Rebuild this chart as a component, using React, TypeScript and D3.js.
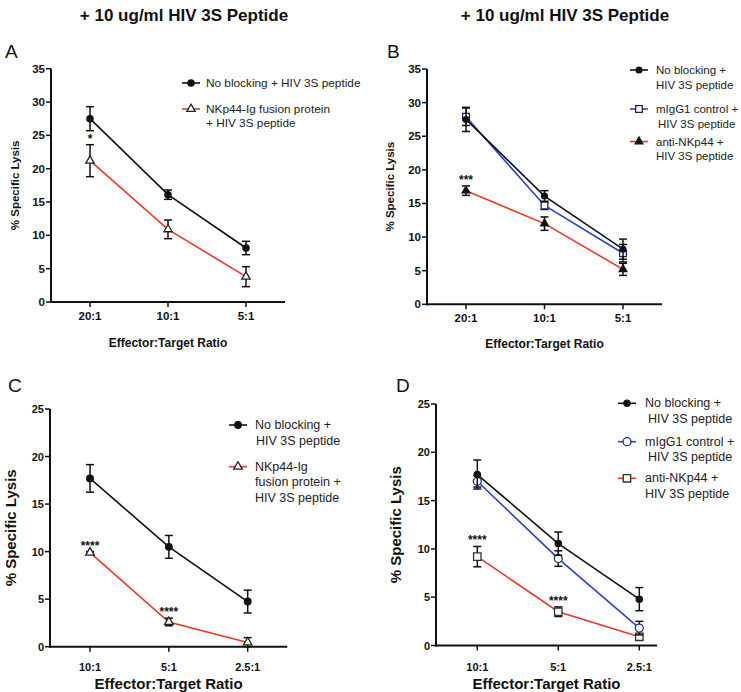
import React from "react";
import * as d3 from "d3";

const catsAB = ["20:1", "10:1", "5:1"];
const catsCD = ["10:1", "5:1", "2.5:1"];
const yTicksAB = [0, 5, 10, 15, 20, 25, 30, 35];
const yTicksCD = [0, 5, 10, 15, 20, 25];

// Panel A
const aNoBlock = [27.5, 16.1, 8.1];
const aNoBlockErr = [1.8, 0.7, 1.0];
const aFusion = [21.2, 10.9, 3.8];
const aFusionErr = [2.4, 1.4, 1.5];
const aSig = ["*", "", ""];

// Panel B
const bNoBlock = [27.5, 16.1, 8.2];
const bNoBlockErr = [1.8, 0.8, 1.5];
const bIgG1 = [27.9, 14.7, 7.6];
const bIgG1Err = [1.3, 0.6, 1.3];
const bAnti = [16.9, 12.0, 5.2];
const bAntiErr = [0.7, 1.0, 0.9];
const bSig = ["***", "", ""];

// Panel C
const cNoBlock = [17.7, 10.5, 4.75];
const cNoBlockErr = [1.45, 1.2, 1.2];
const cFusion = [9.9, 2.6, 0.45];
const cFusionErr = [0.1, 0.4, 0.5];
const cSig = ["****", "****", ""];

// Panel D
const dNoBlock = [17.7, 10.55, 4.8];
const dNoBlockErr = [1.5, 1.2, 1.2];
const dIgG1 = [17.0, 9.0, 1.8];
const dIgG1Err = [0.6, 0.8, 0.7];
const dAnti = [9.2, 3.5, 0.9];
const dAntiErr = [1.05, 0.5, 0.3];
const dSig = ["****", "****", ""];

const FONT = "'Liberation Sans', Arial, Helvetica, sans-serif";
const RED = "#e8372b";
const BLUE = "#2c3fd0";

type Series = {
  labels: string[];
  values: number[];
  errors: number[];
  color: string;
  symbol: d3.SymbolType;
  size: number;
  fill: string;
  stroke: string;
};

type PanelCfg = {
  letter: string;
  letterX: number;
  letterY: number;
  cats: string[];
  yTicks: number[];
  x0: number;
  x1: number;
  catRange: [number, number];
  yTop: number;
  yBottom: number;
  tickFont: number;
  xTickY: number;
  titleFont: number;
  titleY: number;
  yLabelFont: number;
  yLabelX: number;
  series: Series[];
  sig: string[];
  sigSeries: number;
  legendX: number;
  legendYs: number[];
  legendFont: number;
  legendLine: number;
  legendIndent: number[];
  legendGap: number;
};

function Panel({ cfg }: { cfg: PanelCfg }) {
  const yMax = cfg.yTicks[cfg.yTicks.length - 1];
  const y = d3.scaleLinear().domain([0, yMax]).range([cfg.yBottom, cfg.yTop]);
  const x = d3.scalePoint<string>().domain(cfg.cats).range(cfg.catRange).padding(0);
  const line = d3
    .line<number>()
    .x((_, i) => x(cfg.cats[i]) as number)
    .y((v) => y(v));
  const cap = 4;
  const order = [...cfg.series.keys()].reverse();
  const sigS = cfg.series[cfg.sigSeries];
  return (
    <g fontFamily={FONT}>
      <text x={cfg.letterX} y={cfg.letterY} fontSize={19} fill="#111">
        {cfg.letter}
      </text>
      {/* axes */}
      <line x1={cfg.x0} x2={cfg.x0} y1={cfg.yTop} y2={cfg.yBottom + 1} stroke="#111" strokeWidth={2} />
      <line x1={cfg.x0 - 1} x2={cfg.x1} y1={cfg.yBottom} y2={cfg.yBottom} stroke="#111" strokeWidth={2} />
      {cfg.yTicks.map((t) => (
        <g key={"yt" + t}>
          <line x1={cfg.x0 - 5} x2={cfg.x0} y1={y(t)} y2={y(t)} stroke="#111" strokeWidth={1.5} />
          <text
            x={cfg.x0 - 6}
            y={y(t)}
            textAnchor="end"
            dominantBaseline="central"
            fontSize={cfg.tickFont}
            fontWeight="bold"
            fill="#111"
          >
            {t}
          </text>
        </g>
      ))}
      {cfg.cats.map((c) => (
        <g key={"xt" + c}>
          <line
            x1={x(c)}
            x2={x(c)}
            y1={cfg.yBottom}
            y2={cfg.yBottom + 5}
            stroke="#111"
            strokeWidth={1.5}
          />
          <text
            x={x(c)}
            y={cfg.xTickY}
            textAnchor="middle"
            dominantBaseline="central"
            fontSize={cfg.tickFont}
            fontWeight="bold"
            fill="#111"
          >
            {c}
          </text>
        </g>
      ))}
      <text
        x={(cfg.x0 + cfg.x1) / 2}
        y={cfg.titleY}
        textAnchor="middle"
        dominantBaseline="central"
        fontSize={cfg.titleFont}
        fontWeight="bold"
        fill="#111"
      >
        Effector:Target Ratio
      </text>
      <text
        transform={`translate(${cfg.yLabelX},${(cfg.yTop + cfg.yBottom) / 2}) rotate(-90)`}
        textAnchor="middle"
        dominantBaseline="central"
        fontSize={cfg.yLabelFont}
        fontWeight="bold"
        fill="#111"
      >
        % Specific Lysis
      </text>
      {/* series lines */}
      {order.map((si) => {
        const s = cfg.series[si];
        return (
          <path key={"l" + si} d={line(s.values) || ""} fill="none" stroke={s.color} strokeWidth={1.6} />
        );
      })}
      {/* error bars & markers */}
      {order.map((si) => {
        const s = cfg.series[si];
        return (
          <g key={"m" + si}>
            {s.values.map((v, i) => {
              const cx = x(cfg.cats[i]) as number;
              const yt = y(v + s.errors[i]);
              const yb = y(Math.max(0, v - s.errors[i]));
              return (
                <g key={i}>
                  <line x1={cx} x2={cx} y1={yt} y2={yb} stroke="#111" strokeWidth={1.5} />
                  <line x1={cx - cap} x2={cx + cap} y1={yt} y2={yt} stroke="#111" strokeWidth={1.5} />
                  <line x1={cx - cap} x2={cx + cap} y1={yb} y2={yb} stroke="#111" strokeWidth={1.5} />
                  <path
                    transform={`translate(${cx},${y(v)})`}
                    d={d3.symbol().type(s.symbol).size(s.size)() || ""}
                    fill={s.fill}
                    stroke={s.stroke}
                    strokeWidth={1.3}
                  />
                </g>
              );
            })}
          </g>
        );
      })}
      {/* significance */}
      {cfg.sig.map((t, i) =>
        t ? (
          <text
            key={"sig" + i}
            x={x(cfg.cats[i])}
            y={y(sigS.values[i] + sigS.errors[i]) - 2}
            textAnchor="middle"
            fontSize={12}
            fontWeight="bold"
            fill="#111"
          >
            {t}
          </text>
        ) : null
      )}
      {/* legend */}
      {cfg.series.map((s, si) => {
        const ly = cfg.legendYs[si];
        const lx = cfg.legendX;
        return (
          <g key={"lg" + si}>
            <line x1={lx} x2={lx + 18} y1={ly} y2={ly} stroke={s.color} strokeWidth={1.6} />
            <path
              transform={`translate(${lx + 9},${ly})`}
              d={d3.symbol().type(s.symbol).size(s.size)() || ""}
              fill={s.fill}
              stroke={s.stroke}
              strokeWidth={1.3}
            />
            {s.labels.map((t, k) => (
              <text
                key={k}
                x={lx + cfg.legendGap + (k > 0 ? cfg.legendIndent[si] : 0)}
                y={ly + k * cfg.legendLine}
                dominantBaseline="central"
                fontSize={cfg.legendFont}
                fill="#222"
              >
                {t}
              </text>
            ))}
          </g>
        );
      })}
    </g>
  );
}

const panels: PanelCfg[] = [
  {
    letter: "A",
    letterX: 5,
    letterY: 58,
    cats: catsAB,
    yTicks: yTicksAB,
    x0: 51,
    x1: 285,
    catRange: [90, 246],
    yTop: 68.7,
    yBottom: 302,
    tickFont: 11.5,
    xTickY: 316,
    titleFont: 12,
    titleY: 343,
    yLabelFont: 11.5,
    yLabelX: 15,
    series: [
      { labels: ["No blocking + HIV 3S peptide"], values: aNoBlock, errors: aNoBlockErr, color: "#111", symbol: d3.symbolCircle, size: 30, fill: "#111", stroke: "#111" },
      { labels: ["NKp44-Ig fusion protein", "+ HIV 3S peptide"], values: aFusion, errors: aFusionErr, color: RED, symbol: d3.symbolTriangle, size: 30, fill: "#fff", stroke: "#222" },
    ],
    sig: aSig,
    sigSeries: 1,
    legendX: 182,
    legendYs: [83, 109],
    legendFont: 11.8,
    legendLine: 14,
    legendIndent: [0, 0],
    legendGap: 24,
  },
  {
    letter: "B",
    letterX: 387,
    letterY: 58,
    cats: catsAB,
    yTicks: yTicksAB,
    x0: 427,
    x1: 662,
    catRange: [466, 623],
    yTop: 69,
    yBottom: 304.3,
    tickFont: 11.5,
    xTickY: 318,
    titleFont: 12,
    titleY: 344,
    yLabelFont: 11.5,
    yLabelX: 390,
    series: [
      { labels: ["No blocking +", "HIV 3S peptide"], values: bNoBlock, errors: bNoBlockErr, color: "#111", symbol: d3.symbolCircle, size: 26, fill: "#111", stroke: "#111" },
      { labels: ["mIgG1 control +", " HIV 3S peptide"], values: bIgG1, errors: bIgG1Err, color: BLUE, symbol: d3.symbolSquare, size: 45, fill: "#fff", stroke: "#1b2460" },
      { labels: ["anti-NKp44 +", "HIV 3S peptide"], values: bAnti, errors: bAntiErr, color: RED, symbol: d3.symbolTriangle, size: 26, fill: "#111", stroke: "#111" },
    ],
    sig: bSig,
    sigSeries: 2,
    legendX: 630,
    legendYs: [70, 109, 141.5],
    legendFont: 11.5,
    legendLine: 14.5,
    legendIndent: [0, 2, 0],
    legendGap: 26,
  },
  {
    letter: "C",
    letterX: 8,
    letterY: 392,
    cats: catsCD,
    yTicks: yTicksCD,
    x0: 50,
    x1: 287.3,
    catRange: [90, 247.7],
    yTop: 409,
    yBottom: 646.7,
    tickFont: 11,
    xTickY: 666.7,
    titleFont: 15,
    titleY: 683.5,
    yLabelFont: 15,
    yLabelX: 10,
    series: [
      { labels: ["No blocking +", " HIV 3S peptide"], values: cNoBlock, errors: cNoBlockErr, color: "#111", symbol: d3.symbolCircle, size: 34, fill: "#111", stroke: "#111" },
      { labels: ["NKp44-Ig", "fusion protein +", "HIV 3S peptide"], values: cFusion, errors: cFusionErr, color: RED, symbol: d3.symbolTriangle, size: 32, fill: "#fff", stroke: "#222" },
    ],
    sig: cSig,
    sigSeries: 1,
    legendX: 229,
    legendYs: [425, 466.7],
    legendFont: 12.5,
    legendLine: 15.5,
    legendIndent: [1, 0],
    legendGap: 26,
  },
  {
    letter: "D",
    letterX: 396,
    letterY: 392,
    cats: catsCD,
    yTicks: yTicksCD,
    x0: 436,
    x1: 657,
    catRange: [477.3, 639.3],
    yTop: 404,
    yBottom: 645.5,
    tickFont: 11,
    xTickY: 666.7,
    titleFont: 15,
    titleY: 683.5,
    yLabelFont: 15,
    yLabelX: 395,
    series: [
      { labels: ["No blocking +", " HIV 3S peptide"], values: dNoBlock, errors: dNoBlockErr, color: "#111", symbol: d3.symbolCircle, size: 30, fill: "#111", stroke: "#111" },
      { labels: ["mIgG1 control +", " HIV 3S peptide"], values: dIgG1, errors: dIgG1Err, color: BLUE, symbol: d3.symbolCircle, size: 50, fill: "#fff", stroke: "#24307a" },
      { labels: ["anti-NKp44 +", "HIV 3S peptide"], values: dAnti, errors: dAntiErr, color: RED, symbol: d3.symbolSquare, size: 55, fill: "#fff", stroke: "#333" },
    ],
    sig: dSig,
    sigSeries: 2,
    legendX: 618,
    legendYs: [403.3, 441.7, 478.3],
    legendFont: 12.5,
    legendLine: 15.5,
    legendIndent: [3, 3, 0],
    legendGap: 27,
  },
];

export default function App() {
  return (
    <svg
      width={741}
      height={692}
      style={{ position: "absolute", left: 0, top: 0, background: "#fff" }}
      fontFamily={FONT}
    >
      <rect width={741} height={692} fill="#fff" />
      <text x={184} y={15} textAnchor="middle" dominantBaseline="central" fontSize={17} fontWeight="bold" fill="#111">
        + 10 ug/ml HIV 3S Peptide
      </text>
      <text x={565} y={15} textAnchor="middle" dominantBaseline="central" fontSize={17} fontWeight="bold" fill="#111">
        + 10 ug/ml HIV 3S Peptide
      </text>
      {panels.map((p) => (
        <Panel key={p.letter} cfg={p} />
      ))}
    </svg>
  );
}
